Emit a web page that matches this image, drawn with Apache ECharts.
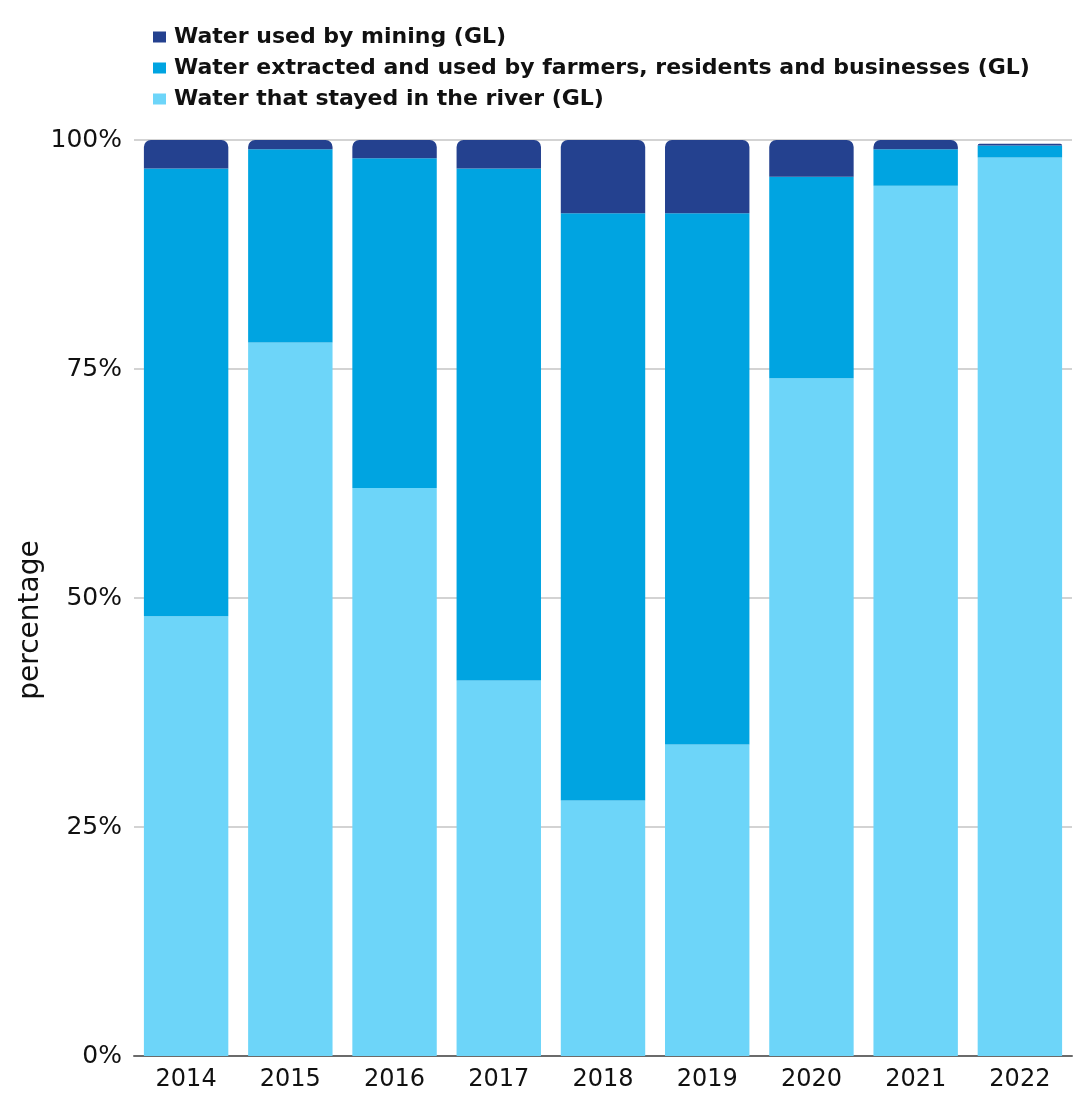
<!DOCTYPE html>
<html>
<head>
<meta charset="utf-8">
<script src="https://cdn.jsdelivr.net/npm/echarts@6/dist/echarts.min.js"></script>
<style>
  html, body { margin: 0; padding: 0; background: #fff; }
  #chart { width: 1075px; height: 1093px; }
</style>
</head>
<body>
<div id="chart"></div>
<script>
  // data
  var years = ['2014', '2015', '2016', '2017', '2018', '2019', '2020', '2021', '2022'];
  var riverPct = [48.0, 77.9, 62.0, 41.0, 27.9, 34.0, 74.0, 95.0, 98.1];
  var extractedPct = [48.9, 21.1, 36.0, 55.9, 64.1, 58.0, 22.0, 4.0, 1.3];
  var miningPct = [3.1, 1.0, 2.0, 3.1, 8.0, 8.0, 4.0, 1.0, 0.2];
  var yTicks = [0, 25, 50, 75, 100];

  var names = [
    'Water used by mining (GL)',
    'Water extracted and used by farmers, residents and businesses (GL)',
    'Water that stayed in the river (GL)'
  ];

  var chart = echarts.init(document.getElementById('chart'));

  var option = {
    animation: false,
    textStyle: {
      fontFamily: 'DejaVu Sans'
    },
    // 图例
    legend: {
      orient: 'vertical',
      left: 148,
      top: 21,
      itemWidth: 13,
      itemHeight: 11,
      itemGap: 9,
      icon: 'rect',
      data: names,
      textStyle: {
        fontSize: 22,
        fontWeight: 'bold',
        color: '#111',
        padding: [0, 0, 0, 3]
      }
    },
    grid: {
      left: 134,
      right: 3,
      top: 140,
      bottom: 37
    },
    xAxis: {
      type: 'category',
      data: years,
      axisTick: { show: false },
      axisLine: {
        lineStyle: { color: '#6b6b6b', width: 2 }
      },
      axisLabel: {
        color: '#111',
        fontSize: 24,
        margin: 12
      }
    },
    yAxis: {
      type: 'value',
      min: yTicks[0],
      max: yTicks[yTicks.length - 1],
      interval: 25,
      name: 'percentage',
      nameLocation: 'middle',
      nameGap: 89,
      nameMoveOverlap: false,
      nameTextStyle: {
        fontSize: 28,
        color: '#111',
        padding: [0, 44, 0, 0]
      },
      axisLine: { show: false },
      axisTick: { show: false },
      axisLabel: {
        color: '#111',
        fontSize: 25,
        margin: 12,
        formatter: '{value}%'
      },
      splitLine: {
        lineStyle: { color: '#c4c4c4', width: 1.5 }
      }
    },
    series: [{
        name: names[2],
        type: 'bar',
        stack: 'total',
        barCategoryGap: '19%',
        data: riverPct,
        itemStyle: { color: '#6DD5F9' }
      },
      {
        name: names[1],
        type: 'bar',
        stack: 'total',
        data: extractedPct,
        itemStyle: { color: '#00A4E1' }
      },
      {
        name: names[0],
        type: 'bar',
        stack: 'total',
        data: miningPct,
        itemStyle: {
          color: '#24418F',
          borderRadius: [7, 7, 0, 0]
        }
      }
    ]
  };
  chart.setOption(option);
</script>
</body>
</html>
